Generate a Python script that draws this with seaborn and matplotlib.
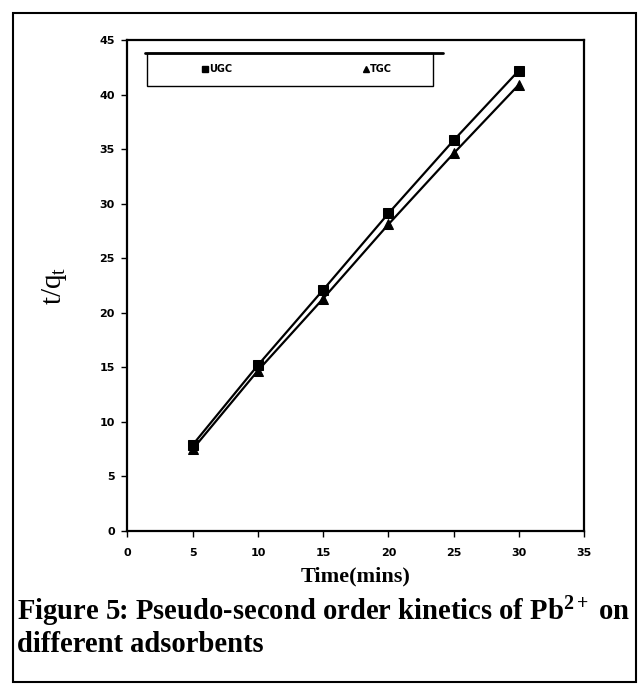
import matplotlib
matplotlib.use("Agg")
import matplotlib.pyplot as plt
import seaborn as sns
import pandas as pd
from matplotlib.lines import Line2D
from matplotlib.patches import Rectangle
from matplotlib import font_manager

sns.set_theme(style="white")
plt.rcParams.update({"text.color": "black", "axes.labelcolor": "black",
                     "xtick.color": "black", "ytick.color": "black"})

time_mins = [5, 10, 15, 20, 25, 30]
ugc = [7.9, 15.2, 22.1, 29.1, 35.8, 42.2]
tgc = [7.5, 14.7, 21.3, 28.1, 34.6, 40.9]
x_ticks = [0, 5, 10, 15, 20, 25, 30, 35]
y_ticks = [0, 5, 10, 15, 20, 25, 30, 35, 40, 45]

names = {f.name for f in font_manager.fontManager.ttflist}
tick_font = "Liberation Sans Narrow" if "Liberation Sans Narrow" in names else "DejaVu Sans"
serif_font = "Liberation Serif"
plt.rcParams["mathtext.fontset"] = "custom"
plt.rcParams["mathtext.rm"] = "Liberation Serif"
plt.rcParams["mathtext.it"] = "Liberation Serif:italic"
plt.rcParams["mathtext.bf"] = "Liberation Serif:bold"

df = pd.DataFrame({
    "Time": time_mins * 2,
    "tq": ugc + tgc,
    "Series": ["UGC"] * len(ugc) + ["TGC"] * len(tgc),
})

fig = plt.figure(figsize=(6.39, 6.85), dpi=100)
ax = fig.add_axes([0.1995, 0.2248, 0.7145, 0.7168])

sns.lineplot(data=df, x="Time", y="tq", style="Series", hue="Series",
             palette={"UGC": "black", "TGC": "black"},
             markers={"UGC": "s", "TGC": "^"}, dashes=False,
             markersize=7, linewidth=1.6, markeredgecolor="black",
             legend=False, ax=ax)

ax.set_xlim(0, 35)
ax.set_ylim(0, 45)
ax.set_xticks(x_ticks)
ax.set_yticks(y_ticks)
ax.set_xticklabels([str(v) for v in x_ticks], fontfamily=tick_font, fontsize=8, fontweight="bold")
ax.set_yticklabels([str(v) for v in y_ticks], fontfamily=tick_font, fontsize=8, fontweight="bold")
ax.tick_params(axis="both", direction="out", length=4, width=1, color="black",
               labelcolor="black", bottom=True, left=True, pad=8)
ax.tick_params(axis="y", pad=5)
for s in ax.spines.values():
    s.set_color("black")
    s.set_linewidth(1.6)

ax.set_xlabel("Time(mins)", fontfamily=serif_font, fontsize=16, fontweight="bold",
              labelpad=6, color="black")
ax.set_ylabel("t/q$_\\mathrm{t}$", fontfamily=serif_font, fontsize=21, labelpad=22, color="black")

# legend
handles = [Line2D([], [], marker="s", color="black", linestyle="none", markersize=5),
           Line2D([], [], marker="^", color="black", linestyle="none", markersize=5)]
leg = ax.legend(handles, ["UGC", "TGC"], loc="center left", bbox_to_anchor=(0.155, 0.94),
                ncol=2, frameon=False, handlelength=0.6, handletextpad=0.1,
                columnspacing=13.5, borderaxespad=0,
                prop={"family": tick_font, "size": 7, "weight": "bold"})
for t in leg.get_texts():
    t.set_color("black")
ax.add_patch(Rectangle((0.043, 0.906), 0.626, 0.067, transform=ax.transAxes,
                       fill=False, edgecolor="black", linewidth=1.0, zorder=5))
ax.add_line(Line2D([0.038, 0.691], [0.973, 0.973], transform=ax.transAxes,
                   color="black", linewidth=2.0, zorder=6))

# caption
fig.text(17 / 639, 1 - 612 / 685, "Figure 5: Pseudo-second order kinetics of $\\mathbf{Pb^{2+}}$ on",
         fontfamily=serif_font, fontsize=20.6, fontweight="bold", va="center", ha="left",
         color="black")
fig.text(17 / 639, 1 - 645 / 685, "different adsorbents",
         fontfamily=serif_font, fontsize=20.6, fontweight="bold", va="center", ha="left",
         color="black")

# outer frame
fig.patches.append(Rectangle((13 / 639, 1 - 682 / 685), 623 / 639, 669 / 685,
                             transform=fig.transFigure, fill=False,
                             edgecolor="black", linewidth=1.5))

fig.savefig("out.png", dpi=100)
